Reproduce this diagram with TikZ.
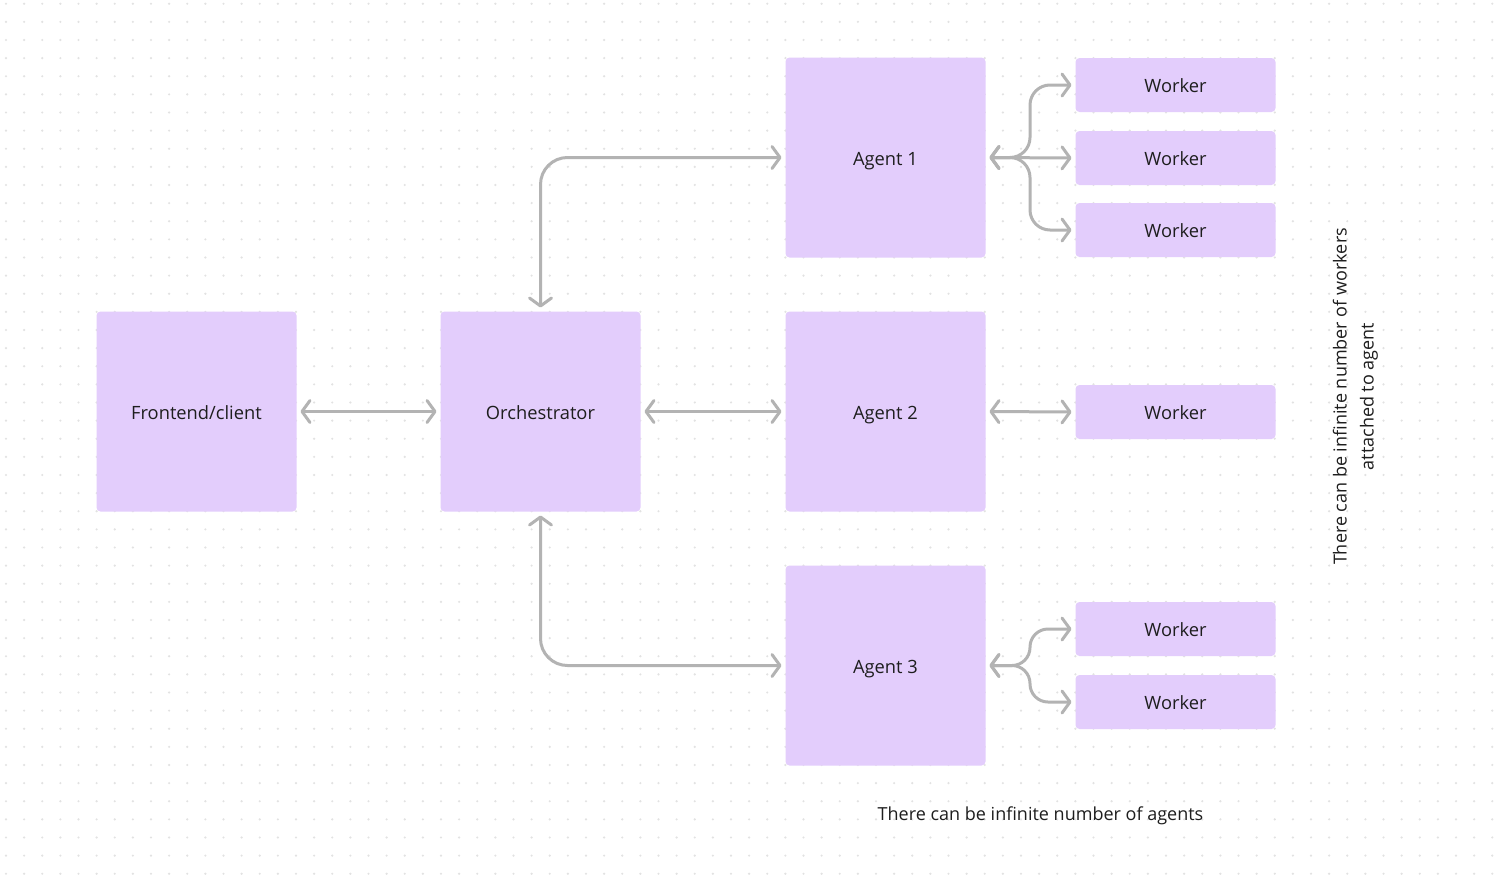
\documentclass[tikz,border=0pt]{standalone}
\usepackage{fontspec}
\setmainfont{Open Sans}
\usetikzlibrary{arrows.meta,calc}
\definecolor{boxfill}{HTML}{E3CDFC}
\definecolor{conncol}{HTML}{B3B3B3}
\definecolor{txtcol}{HTML}{1E1E1E}
\definecolor{dotcol}{HTML}{E2E2E2}
\tikzset{
  box/.style={fill=boxfill, draw=none, rounded corners=4pt, minimum width=200pt, minimum height=200pt, outer sep=0pt, inner sep=0pt, text=txtcol, font=\fontsize{18.3}{22}\selectfont, text height=15.5pt, text depth=0pt},
  workerbox/.style={box, minimum height=54pt},
  conn/.style={draw=conncol, line width=3pt, line cap=round, line join=round,
    {Straight Barb[length=8pt,width=22pt,round]}-{Straight Barb[length=8pt,width=22pt,round]},
    shorten <=4pt, shorten >=4pt},
  note/.style={text=txtcol, font=\fontsize{18}{27}\selectfont, align=center, inner sep=0pt}
}
\begin{document}
\begin{tikzpicture}[x=1pt,y=-1pt]
\useasboundingbox (0,0) rectangle (1505,876);
\fill[white] (0,0) rectangle (1505,876);
% dot grid
\foreach \i in {0,...,82}{
  \foreach \j in {0,...,48}{
    \fill[dotcol] (6+18.125*\i, 3.7+18.125*\j) circle (1.2pt);
  }
}
% main boxes
\node[box] (fe) at (196.5,411.5) {Frontend/client};
\node[box] (orch) at (540.5,411.5) {Orchestrator};
\node[box] (a1) at (885.5,157.5) {Agent 1};
\node[box] (a2) at (885.5,411.5) {Agent 2};
\node[box] (a3) at (885.5,665.5) {Agent 3};
% workers
\node[workerbox] (w11) at (1175.5,85) {Worker};
\node[workerbox] (w12) at (1175.5,158) {Worker};
\node[workerbox] (w13) at (1175.5,230) {Worker};
\node[workerbox] (w21) at (1175.5,412) {Worker};
\node[workerbox] (w31) at (1175.5,629) {Worker};
\node[workerbox] (w32) at (1175.5,702) {Worker};
% fan columns
\coordinate (f1) at (1030,0);
% connectors
\draw[conn] (fe.east) -- (orch.west);
\draw[conn] (orch.east) -- (a2.west);
\draw[conn, rounded corners=27pt] (orch.north) |- (a1.west);
\draw[conn, rounded corners=27pt] (orch.south) |- (a3.west);
\draw[conn] (a2.east) -- (w21.west);
\draw[conn] (a1.east) -- (w12.west);
\draw[conn, rounded corners=20pt] (a1.east) -- (a1.east -| f1) -- (f1 |- w11.west) -- (w11.west);
\draw[conn, rounded corners=20pt] (a1.east) -- (a1.east -| f1) -- (f1 |- w13.west) -- (w13.west);
\draw[conn, rounded corners=18pt] (a3.east) -- (a3.east -| f1) -- (f1 |- w31.west) -- (w31.west);
\draw[conn, rounded corners=18pt] (a3.east) -- (a3.east -| f1) -- (f1 |- w32.west) -- (w32.west);
% notes
\node[note, rotate=90] (n1) at (1355.5,396.5) {There can be infinite number of workers\\attached to agent};
\node[note] (n2) at (1040.5,815.5) {There can be infinite number of agents};
\end{tikzpicture}
\end{document}
